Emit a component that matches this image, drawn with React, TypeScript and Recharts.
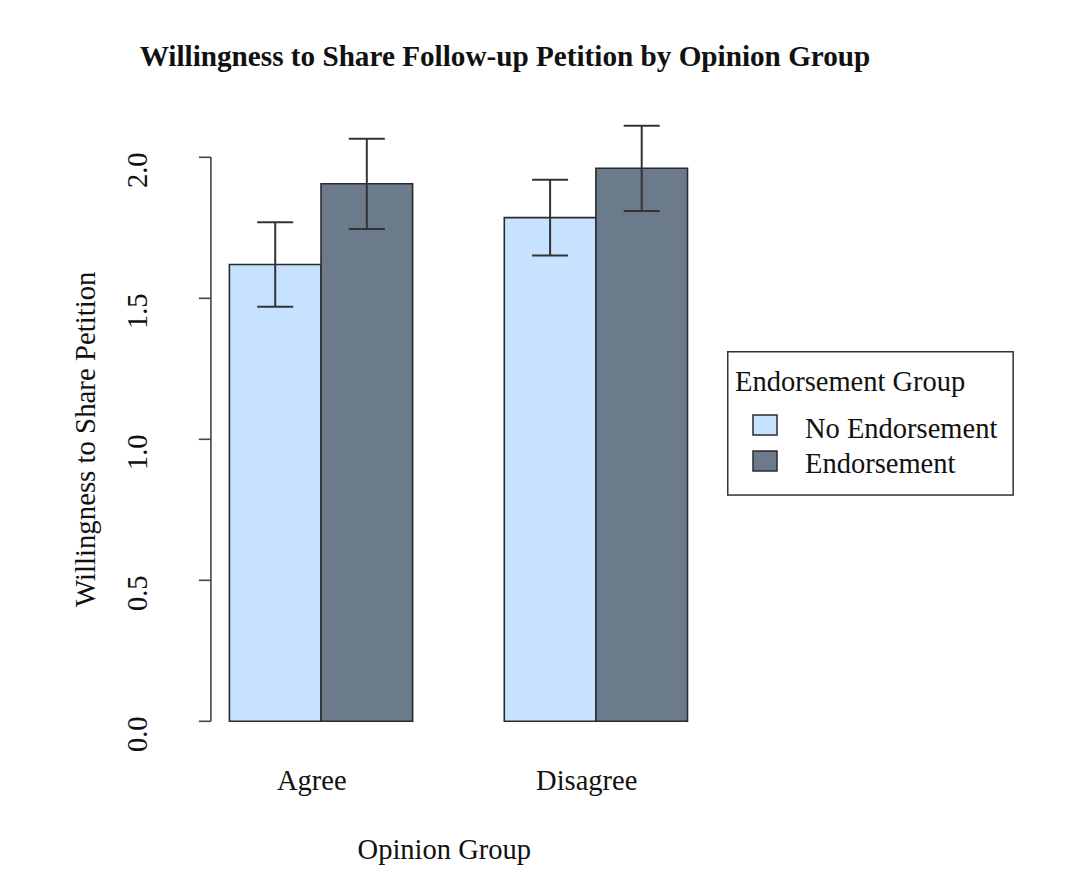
import React from 'react';
import {
  BarChart,
  Bar,
  XAxis,
  YAxis,
  ErrorBar,
  Legend,
  ReferenceLine,
  Label,
} from 'recharts';

// Chart data (means and standard errors)
const opinionGroups = ['Agree', 'Disagree'];
const seriesNames = ['No Endorsement', 'Endorsement'];
const noEndorsementMeans = [1.62, 1.786];
const noEndorsementErr = [0.15, 0.134];
const endorsementMeans = [1.906, 1.961];
const endorsementErr = [0.16, 0.151];
const yTicks = [0, 0.5, 1, 1.5, 2];

// barplot positions: two bars per group, one bar gap between groups
const groupPositions = opinionGroups.map((_, i) => 2 + 3 * i);

const rows = opinionGroups.map((group, i) => ({
  group,
  pos: groupPositions[i],
  noEnd: noEndorsementMeans[i],
  noEndErr: noEndorsementErr[i],
  end: endorsementMeans[i],
  endErr: endorsementErr[i],
}));

const FONT = '"Liberation Serif", "Times New Roman", serif';
const LIGHT = '#c6e2ff';
const DARK = '#6c7b8b';
const INK = '#2b2b2b';

const YTick = (props: any) => {
  const { y, payload } = props;
  const cx = 147;
  const cy = y + 13;
  return (
    <text
      x={cx}
      y={cy}
      transform={`rotate(-90, ${cx}, ${cy})`}
      textAnchor="middle"
      fontFamily={FONT}
      fontSize={28.5}
      fill="#111"
    >
      {Number(payload.value).toFixed(1)}
    </text>
  );
};

const XTick = (props: any) => {
  const { x, y, payload } = props;
  const idx = groupPositions.indexOf(payload.value);
  return (
    <text
      x={x - 9}
      y={y + 69}
      textAnchor="middle"
      fontFamily={FONT}
      fontSize={28.5}
      fill="#111"
    >
      {opinionGroups[idx]}
    </text>
  );
};

const LegendBox = (props: any) => {
  const items = [...(props.payload || [])].sort(
    (a: any, b: any) => seriesNames.indexOf(a.value) - seriesNames.indexOf(b.value)
  );
  return (
    <svg width={288} height={146} style={{ display: 'block' }}>
      <rect x={0.75} y={0.75} width={285.4} height={143.3} fill="#fff" stroke="#333" strokeWidth={1.5} />
      <text x={8} y={40} fontFamily={FONT} fontSize={28.5} fill="#111">
        Endorsement Group
      </text>
      {items.map((entry: any, i: number) => (
        <g key={`leg-${i}`}>
          <rect
            x={26}
            y={64 + i * 36}
            width={24}
            height={20}
            fill={entry.color}
            stroke={INK}
            strokeWidth={1.5}
          />
          <text x={78} y={87 + i * 35} fontFamily={FONT} fontSize={28.5} fill="#111">
            {entry.value}
          </text>
        </g>
      ))}
    </svg>
  );
};

export default function App() {
  return (
    <div
      style={{
        position: 'absolute',
        left: 0,
        top: 0,
        width: 1067,
        height: 886,
        background: '#fff',
        fontFamily: FONT,
      }}
    >
      <div
        style={{
          position: 'absolute',
          left: 0,
          top: 41.5,
          width: 1010,
          textAlign: 'center',
          fontSize: 29.2,
          lineHeight: '29px',
          fontWeight: 'bold',
          color: '#111',
          whiteSpace: 'nowrap',
        }}
      >
        Willingness to Share Follow-up Petition by Opinion Group
      </div>
      <BarChart
        width={1067}
        height={886}
        data={rows}
        margin={{ top: 100.9, right: 361.3, bottom: 104.7, left: 0 }}
        barGap={0}
        style={{ position: 'absolute', left: 0, top: 0 }}
      >
        <XAxis
          dataKey="pos"
          type="number"
          domain={[0.8, 6.2]}
          ticks={groupPositions}
          height={60}
          axisLine={false}
          tickLine={false}
          tickSize={0}
          tickMargin={0}
          tick={<XTick />}
          interval={0}
        >
          <Label
            content={(p: any) => {
              const vb = p.viewBox;
              return (
                <text
                  x={vb.x + vb.width / 2 - 14}
                  y={vb.y + 138}
                  textAnchor="middle"
                  fontFamily={FONT}
                  fontSize={28.5}
                  fill="#111"
                >
                  Opinion Group
                </text>
              );
            }}
          />
        </XAxis>
        <YAxis
          type="number"
          domain={[0, 2.2]}
          ticks={yTicks}
          width={210.9}
          axisLine={false}
          tickSize={12}
          tickLine={{ stroke: '#444', strokeWidth: 1.6 }}
          tick={<YTick />}
          interval={0}
        >
          <Label
            content={(p: any) => {
              const vb = p.viewBox;
              const cx = 95;
              const cy = vb.y + vb.height - 282;
              return (
                <text
                  x={cx}
                  y={cy}
                  transform={`rotate(-90, ${cx}, ${cy})`}
                  textAnchor="middle"
                  fontFamily={FONT}
                  fontSize={28.8}
                  fill="#111"
                >
                  Willingness to Share Petition
                </text>
              );
            }}
          />
        </YAxis>
        <ReferenceLine
          segment={[
            { x: 0.8, y: 0 },
            { x: 0.8, y: 2 },
          ]}
          stroke="#444"
          strokeWidth={1.6}
        />
        <Bar
          dataKey="noEnd"
          name={seriesNames[0]}
          fill={LIGHT}
          stroke={INK}
          strokeWidth={1.6}
          barSize={91.6}
          isAnimationActive={false}
        >
          <ErrorBar dataKey="noEndErr" width={18} stroke="#333" strokeWidth={2} direction="y" />
        </Bar>
        <Bar
          dataKey="end"
          name={seriesNames[1]}
          fill={DARK}
          stroke={INK}
          strokeWidth={1.6}
          barSize={91.6}
          isAnimationActive={false}
        >
          <ErrorBar dataKey="endErr" width={18} stroke="#333" strokeWidth={2} direction="y" />
        </Bar>
        <Legend
          layout="horizontal"
          verticalAlign="middle"
          align="center"
          content={<LegendBox />}
          wrapperStyle={{ left: 727, top: 351, width: 290, height: 146 }}
        />
      </BarChart>
    </div>
  );
}
